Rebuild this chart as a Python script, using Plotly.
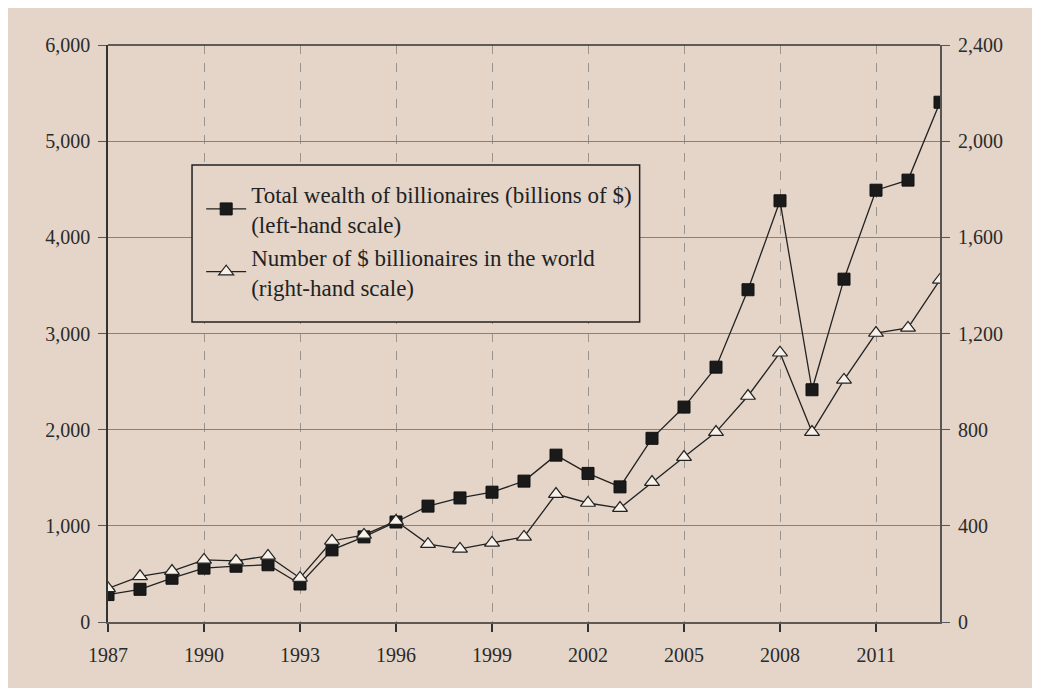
import plotly.graph_objects as go

years = list(range(1987, 2014))
total_wealth = [285, 340, 455, 560, 580, 595, 395, 750, 885, 1040, 1205, 1290, 1350, 1465, 1735,
                1545, 1405, 1910, 2235, 2650, 3455, 4380, 2415, 3565, 4490, 4595, 5405]
num_billionaires = [140, 190, 212, 258, 254, 275, 183, 337, 362, 420, 324, 304, 329, 354, 532,
                    495, 474, 582, 686, 790, 940, 1120, 790, 1007, 1202, 1223, 1423]
x_ticks = list(range(1987, 2012, 3))
left_ticks = [0, 1000, 2000, 3000, 4000, 5000, 6000]
right_ticks = [0, 400, 800, 1200, 1600, 2000, 2400]

BG = "#e4d5c8"
FONT = "Liberation Serif"

fig = go.Figure()
fig.add_trace(go.Scatter(
    x=years, y=total_wealth, mode="lines+markers",
    name="Total wealth of billionaires (billions of $)<br>(left-hand scale)",
    line=dict(color="#222222", width=1.3),
    marker=dict(symbol="square", size=12, color="#1a1a1a", line=dict(color="#111111", width=1)),
    yaxis="y"))
fig.add_trace(go.Scatter(
    x=years, y=num_billionaires, mode="lines+markers",
    name="Number of $ billionaires in the world<br>(right-hand scale)",
    line=dict(color="#222222", width=1.3),
    marker=dict(symbol="triangle-up", size=13, color="#f7f1ea", line=dict(color="#222222", width=1.2)),
    yaxis="y2"))

fig.update_layout(
    width=1040, height=688,
    paper_bgcolor=BG, plot_bgcolor=BG,
    margin=dict(l=100, r=108, t=37, b=74),
    font=dict(family=FONT, size=20, color="#2b2b2b"),
    showlegend=True,
    legend=dict(x=0.112, y=0.779, xanchor="left", yanchor="top",
                bgcolor="rgba(0,0,0,0)", borderwidth=0,
                font=dict(family=FONT, size=23, color="#222222"),
                tracegroupgap=19, itemwidth=40),
    xaxis=dict(range=[1987, 2013], tickvals=x_ticks, ticktext=[str(v) for v in x_ticks],
               showgrid=True, gridcolor="#9a948e", griddash="dash", gridwidth=1,
               showline=True, linecolor="#5e5955", linewidth=2,
               ticks="outside", ticklen=8, tickcolor="#333333", tickwidth=1.5,
               ticklabelstandoff=6,
               zeroline=False, mirror=False),
    yaxis=dict(range=[0, 6000], tickvals=left_ticks, tickformat=",",
               showgrid=True, gridcolor="#86817c", gridwidth=1.3,
               showline=True, linecolor="#333333", linewidth=1.5,
               ticks="outside", ticklen=8, tickcolor="#555555",
               ticklabelstandoff=4,
               zeroline=False),
    yaxis2=dict(range=[0, 2400], tickvals=right_ticks, tickformat=",",
                overlaying="y", side="right", showgrid=False,
                showline=True, linecolor="#555555", linewidth=2,
                ticks="outside", ticklen=8, tickcolor="#555555",
                ticklabelstandoff=4,
                zeroline=False),
)
fig.add_shape(type="line", xref="paper", yref="paper", x0=0, x1=1, y0=1, y1=1,
              line=dict(color="#333333", width=1.5))
# legend frame
fig.add_shape(type="rect", xref="paper", yref="paper", x0=0.101, x1=0.639, y0=0.520, y1=0.792,
              layer="above", fillcolor=BG, line=dict(color="#222222", width=1.5))

fig.write_html("out.html")
